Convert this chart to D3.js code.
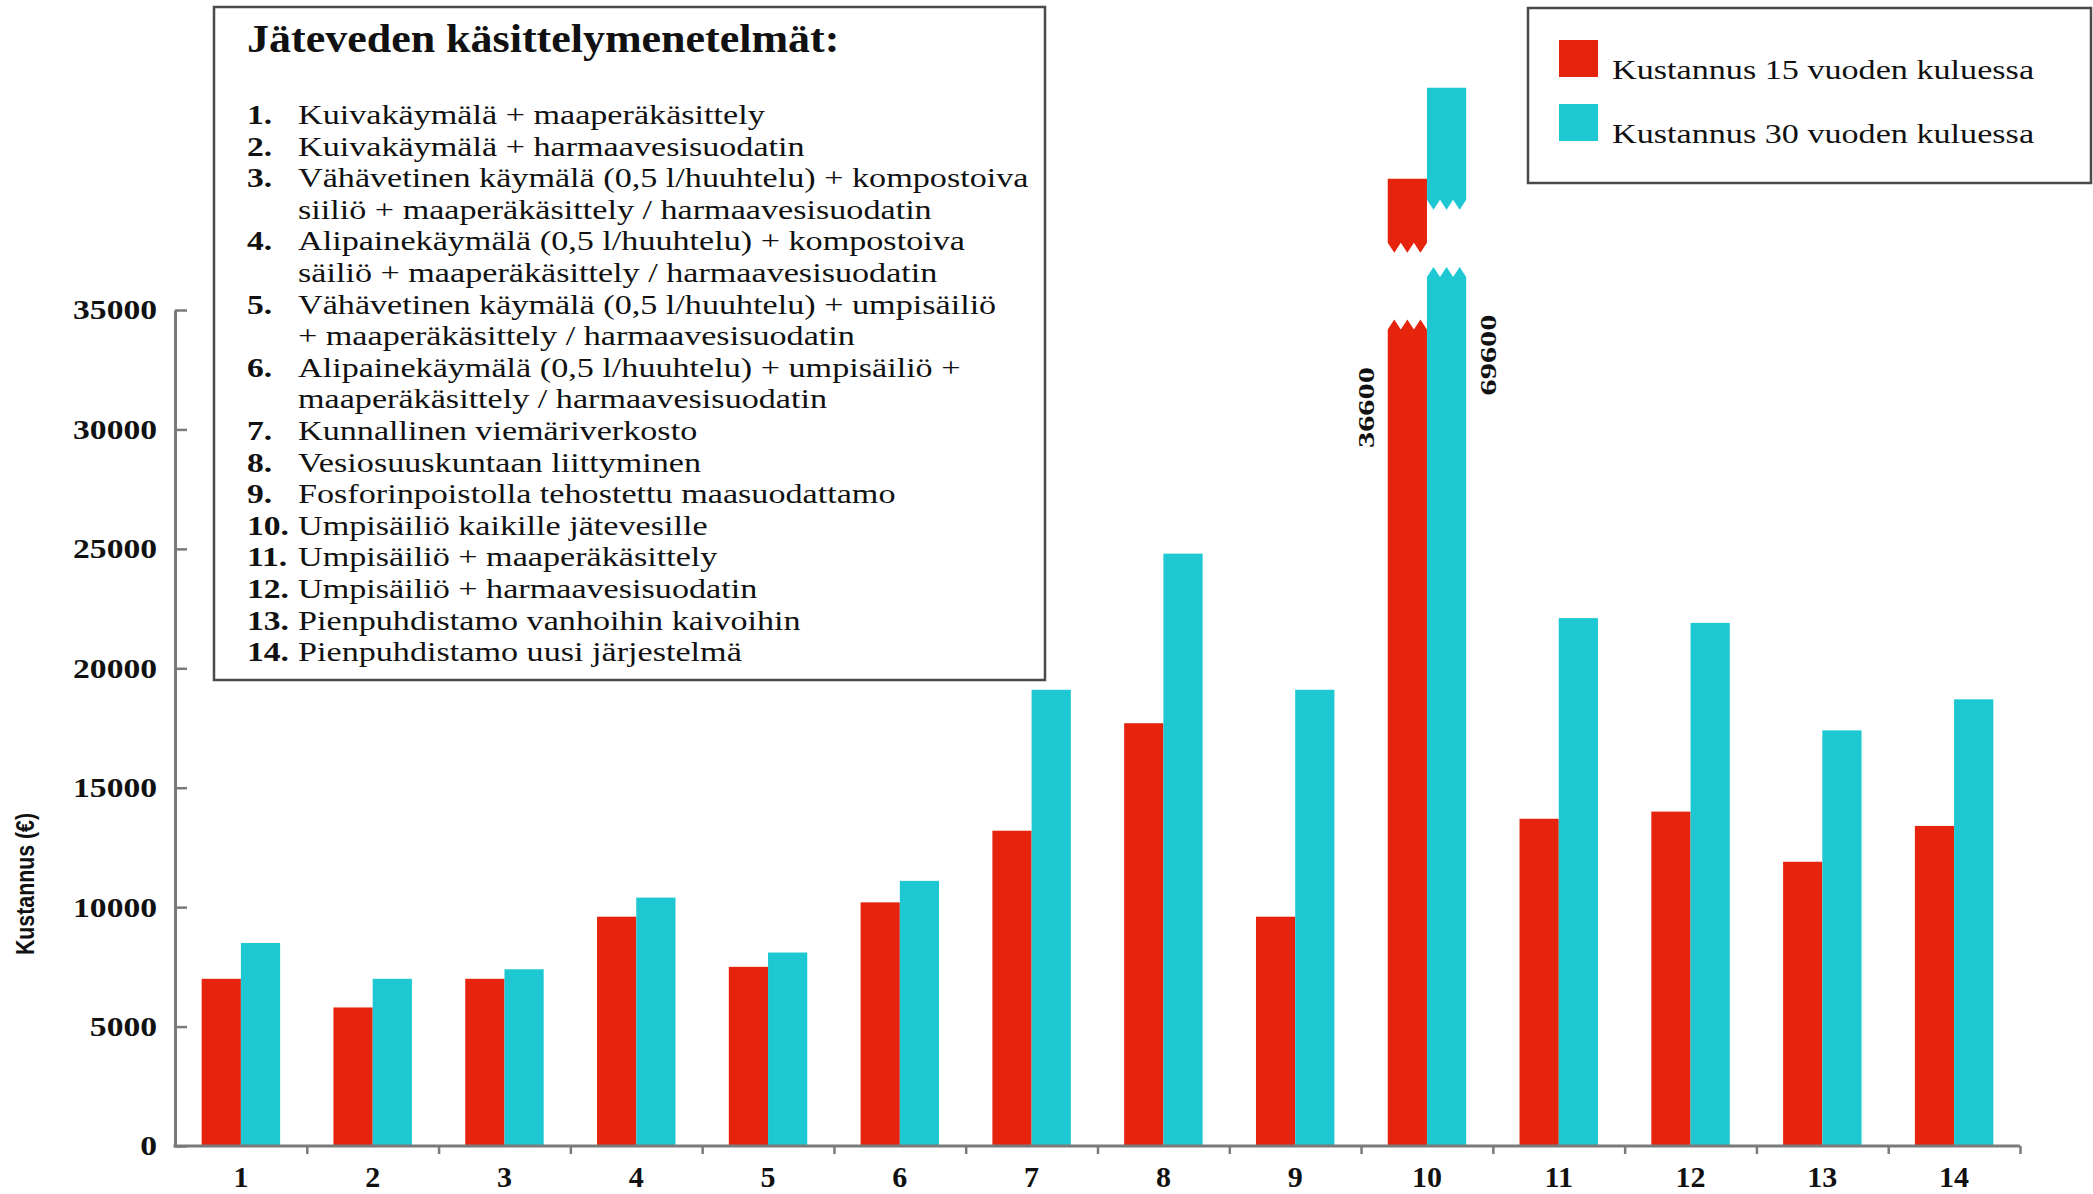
<!DOCTYPE html>
<html>
<head>
<meta charset="utf-8">
<script src="https://cdn.jsdelivr.net/npm/d3@7"></script>
<style>
  body { margin: 0; background: #fff; }
</style>
</head>
<body>
<div id="chart"></div>
<script>
// Chart data
const categories = ["1","2","3","4","5","6","7","8","9","10","11","12","13","14"];
const cost15 = [7000, 5800, 7000, 9600, 7500, 10200, 13200, 17700, 9600, 36600, 13700, 14000, 11900, 13400];
const cost30 = [8500, 7000, 7400, 10400, 8100, 11100, 19100, 24800, 19100, 69600, 22100, 21900, 17400, 18700];
const seriesNames = ["Kustannus 15 vuoden kuluessa", "Kustannus 30 vuoden kuluessa"];
const yTicks = [0, 5000, 10000, 15000, 20000, 25000, 30000, 35000];
const yTitle = "Kustannus (€)";

// broken bar (nr 10): where the lower piece is cut, and span of the upper piece (red, cyan)
const breakCut = [34600, 36800];
const breakTop = [[37400, 40500], [39200, 44300]];

// text box
const boxTitle = "Jäteveden käsittelymenetelmät:";
const methodNums = ["1.","2.","3.","4.","5.","6.","7.","8.","9.","10.","11.","12.","13.","14."];
const methodLines = [
  ["Kuivakäymälä + maaperäkäsittely"],
  ["Kuivakäymälä + harmaavesisuodatin"],
  ["Vähävetinen käymälä (0,5 l/huuhtelu) + kompostoiva", "siiliö + maaperäkäsittely / harmaavesisuodatin"],
  ["Alipainekäymälä (0,5 l/huuhtelu) + kompostoiva", "säiliö + maaperäkäsittely / harmaavesisuodatin"],
  ["Vähävetinen käymälä (0,5 l/huuhtelu) + umpisäiliö", "+ maaperäkäsittely / harmaavesisuodatin"],
  ["Alipainekäymälä (0,5 l/huuhtelu) + umpisäiliö +", "maaperäkäsittely / harmaavesisuodatin"],
  ["Kunnallinen viemäriverkosto"],
  ["Vesiosuuskuntaan liittyminen"],
  ["Fosforinpoistolla tehostettu maasuodattamo"],
  ["Umpisäiliö kaikille jätevesille"],
  ["Umpisäiliö + maaperäkäsittely"],
  ["Umpisäiliö + harmaavesisuodatin"],
  ["Pienpuhdistamo vanhoihin kaivoihin"],
  ["Pienpuhdistamo uusi järjestelmä"]
];

// Dimensions
const width = 2093;
const height = 1194;
const margin = {left: 175, right: 73, top: 310, bottom: 48};
const colors = ["#e6240e", "#1ec8d2"];
const axisColor = "#7a7a7a";
const serif = "'Liberation Serif', 'Times New Roman', serif";

const svg = d3.select("#chart")
  .append("svg")
  .attr("width", width)
  .attr("height", height)
  .attr("viewBox", [0, 0, width, height])
  .style("background", "#fff");

// places a text, stretched along its own direction (the source font is wide)
function placeText(g, x, y, str, o) {
  return g.append("text")
    .attr("transform", `translate(${x},${y}) rotate(${o.rotate || 0}) scale(${o.sx || 1},1)`)
    .attr("font-family", o.family || serif)
    .attr("font-size", o.size)
    .attr("font-weight", o.weight || "normal")
    .attr("text-anchor", o.anchor || "start")
    .attr("dy", o.dy || null)
    .attr("fill", o.fill || "#111")
    .text(str);
}

/* Scales */
const x = d3.scaleBand()
  .domain(categories)
  .range([margin.left, width - margin.right])
  .padding(0);

const xSub = d3.scaleBand()
  .domain([0, 1])
  .range([0, x.bandwidth()])
  .paddingInner(0)
  .paddingOuter(0.68);

const y = d3.scaleLinear()
  .domain([0, 35000])
  .range([height - margin.bottom, margin.top]);

const yMax = y.domain()[1];
const rows = categories.map((c, i) => ({cat: c, values: [cost15[i], cost30[i]]}));

/* Bars */
const groups = svg.append("g")
  .selectAll("g")
  .data(rows)
  .join("g")
  .attr("transform", d => `translate(${x(d.cat)},0)`);

groups.selectAll("rect")
  .data(d => d.values.map((v, s) => ({v, s})).filter(e => e.v <= yMax))
  .join("rect")
  .attr("x", d => xSub(d.s))
  .attr("y", d => y(d.v))
  .attr("width", xSub.bandwidth())
  .attr("height", d => y(0) - y(d.v))
  .attr("fill", d => colors[d.s]);

// broken bars with zig-zag edges
const tooth = 10;
function zigzag(x0, w, yc, up) {
  // up = true: peaks point up (lower piece), else tips point down (upper piece)
  const pts = [];
  for (let k = 0; k <= 6; k++) {
    const peak = k % 2 === 1;
    pts.push([x0 + k * w / 6, up ? (peak ? yc : yc + tooth) : (peak ? yc : yc - tooth)]);
  }
  return pts;
}

rows.forEach(r => {
  r.values.forEach((v, s) => {
    if (v <= yMax) return;
    const x0 = x(r.cat) + xSub(s);
    const w = xSub.bandwidth();
    const yc = y(breakCut[s]);
    const lower = [[x0, y(0)]].concat(zigzag(x0, w, yc, true), [[x0 + w, y(0)]]);
    svg.append("path")
      .attr("d", d3.line()(lower) + "Z")
      .attr("fill", colors[s]);

    const yb = y(breakTop[s][0]);
    const yt = y(breakTop[s][1]);
    const upper = [[x0, yt], [x0 + w, yt]].concat(zigzag(x0, w, yb, false).reverse());
    svg.append("path")
      .attr("d", d3.line()(upper) + "Z")
      .attr("fill", colors[s]);

    // value label beside the bar
    const lx = s === 0 ? x0 - 22 : x0 + w + 21;
    placeText(svg, lx, yc + 88, d3.format("d")(v),
      {size: 24, weight: "bold", anchor: "middle", rotate: -90, sx: 1.35, dy: "0.35em"});
  });
});

/* Axes */
const yAxis = svg.append("g")
  .attr("transform", `translate(${margin.left},0)`)
  .call(d3.axisLeft(y).tickValues(yTicks).tickFormat(d3.format("d"))
    .tickSizeInner(-12).tickSizeOuter(0).tickPadding(15));
yAxis.select(".domain").attr("stroke", axisColor).attr("stroke-width", 3);
yAxis.selectAll(".tick line").attr("stroke", axisColor).attr("stroke-width", 2.5);
yAxis.selectAll(".tick text")
  .attr("font-family", serif)
  .attr("font-size", 28)
  .attr("font-weight", "bold")
  .attr("fill", "#111")
  .attr("transform", "scale(1.2,1)");

// tick marks sit between the categories
const xEdge = d3.scaleLinear().domain([0, categories.length]).range(x.range());
const xTicks = svg.append("g")
  .attr("transform", `translate(0,${y(0)})`)
  .call(d3.axisBottom(xEdge).tickValues(d3.range(1, categories.length + 1)).tickSize(8).tickFormat(""));
xTicks.select(".domain").remove();
xTicks.selectAll(".tick line").attr("stroke", axisColor).attr("stroke-width", 2.5);

const xAxis = svg.append("g")
  .attr("transform", `translate(0,${y(0)})`)
  .call(d3.axisBottom(x).tickSize(0).tickPadding(20));
xAxis.select(".domain").attr("stroke", axisColor).attr("stroke-width", 3)
  .attr("d", `M${margin.left - 1.5},0H${width - margin.right}`);
xAxis.selectAll(".tick text")
  .attr("font-family", serif)
  .attr("font-size", 30)
  .attr("font-weight", "bold")
  .attr("fill", "#111");

// y axis title
placeText(svg, 34, 884, yTitle,
  {family: "'Liberation Sans', Arial, sans-serif", size: 26, weight: "bold", anchor: "middle", rotate: -90, sx: 0.82});

/* Method list box */
const box = svg.append("g");
box.append("rect")
  .attr("x", 214).attr("y", 7)
  .attr("width", 831).attr("height", 673)
  .attr("fill", "#fff")
  .attr("stroke", "#4a4a4a")
  .attr("stroke-width", 2.5);

placeText(box, 247, 52, boxTitle, {size: 40, weight: "bold", sx: 1.1});

let line = 0;
const lineStep = 31.6;
methodLines.forEach((lines, i) => {
  placeText(box, 247, 124 + line * lineStep, methodNums[i], {size: 28, weight: "bold", sx: 1.2});
  lines.forEach(t => {
    placeText(box, 298, 124 + line * lineStep, t, {size: 28, sx: 1.22});
    line++;
  });
});

/* Legend */
const legend = svg.append("g");
legend.append("rect")
  .attr("x", 1528).attr("y", 8)
  .attr("width", 563).attr("height", 175)
  .attr("fill", "#fff")
  .attr("stroke", "#4a4a4a")
  .attr("stroke-width", 2.5);

seriesNames.forEach((name, i) => {
  legend.append("rect")
    .attr("x", 1559).attr("y", 40 + i * 64)
    .attr("width", 39).attr("height", 37)
    .attr("fill", colors[i]);
  placeText(legend, 1612, 79 + i * 64, name, {size: 28, sx: 1.22});
});
</script>
</body>
</html>
